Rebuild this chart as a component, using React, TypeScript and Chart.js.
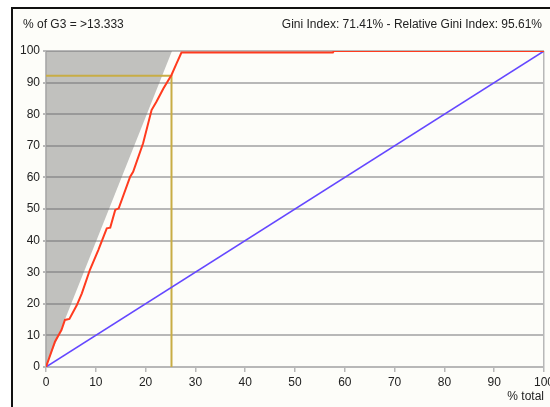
import { useEffect, useRef } from 'react';
import { Chart, registerables } from 'chart.js';

Chart.register(...registerables);

const LEFT_TITLE = '% of G3 = >13.333';
const RIGHT_TITLE = 'Gini Index: 71.41% - Relative Gini Index: 95.61%';
const X_TITLE = '% total';

// Model (lift / gain) curve
const modelX = [0, 1.8, 3.1, 3.8, 4.7, 6.2, 7.2, 8.8, 10.5, 12.2, 12.9, 13.9, 14.6, 16.9, 17.5, 19.5, 21.2, 22.2, 23.6, 25.2, 26.2, 27.2, 57.6, 57.8, 100];
const modelY = [0, 8, 11.7, 14.9, 15.2, 19.6, 23.3, 30.7, 37, 43.9, 44.1, 49.7, 50.2, 60.2, 61.8, 70.8, 81.3, 84, 88.2, 92.4, 96, 99.5, 99.5, 100, 100];

// Random (diagonal) line
const randomX = [0, 100];
const randomY = [0, 100];

// Perfect model area
const perfectX = [0, 25.3, 0, 0];
const perfectY = [0, 100, 100, 0];

// Cutoff marker
const cutoffX = [0, 25.2, 25.2];
const cutoffY = [92.2, 92.2, 0];

const toPts = (xs: number[], ys: number[]) => xs.map((x, i) => ({ x, y: ys[i] }));

const FONT = "'Liberation Sans', Arial, sans-serif";

export default function App() {
  const ref = useRef<HTMLCanvasElement | null>(null);

  useEffect(() => {
    if (!ref.current) return;
    const framePlugin = {
      id: 'frame',
      beforeDraw(chart: any) {
        const ctx = chart.ctx;
        ctx.save();
        ctx.fillStyle = '#ffffff';
        ctx.fillRect(0, 0, chart.width, chart.height);
        ctx.fillStyle = '#fdfdf9';
        ctx.fillRect(12, 8, chart.width - 12, chart.height - 8);
        ctx.fillStyle = '#111111';
        ctx.fillRect(11, 7, 2, chart.height - 7);
        ctx.fillRect(11, 7, chart.width - 11, 2);
        ctx.restore();
      },
      afterDraw(chart: any) {
        const ctx = chart.ctx;
        ctx.save();
        ctx.font = `12px ${FONT}`;
        ctx.fillStyle = '#222222';
        ctx.textBaseline = 'alphabetic';
        ctx.textAlign = 'left';
        ctx.fillText(LEFT_TITLE, 23, 28);
        ctx.textAlign = 'right';
        ctx.fillText(RIGHT_TITLE, 542, 28);
        ctx.restore();
      },
    };

    const chart = new Chart(ref.current, {
      type: 'scatter',
      data: {
        datasets: [
          {
            label: 'model',
            data: toPts(modelX, modelY),
            showLine: true,
            borderColor: '#ff3b1f',
            borderWidth: 2,
            pointRadius: 0,
            fill: false,
            order: 0,
          },
          {
            label: 'random',
            data: toPts(randomX, randomY),
            showLine: true,
            borderColor: '#6447ff',
            borderWidth: 1.5,
            pointRadius: 0,
            fill: false,
            order: 1,
          },
          {
            label: 'cutoff',
            data: toPts(cutoffX, cutoffY),
            showLine: true,
            borderColor: '#c8ad45',
            borderWidth: 2,
            pointRadius: 0,
            fill: false,
            order: 2,
          },
          {
            label: 'perfect',
            data: toPts(perfectX, perfectY),
            showLine: true,
            borderColor: 'rgba(0,0,0,0)',
            borderWidth: 0,
            backgroundColor: 'rgba(110,110,110,0.42)',
            pointRadius: 0,
            fill: 'shape',
            order: 3,
          } as any,
        ],
      },
      options: {
        animation: false,
        responsive: false,
        devicePixelRatio: 1,
        layout: { padding: { left: 0, right: 6, top: 51, bottom: 0 } },
        plugins: {
          legend: { display: false },
          tooltip: { enabled: false },
        },
        scales: {
          x: {
            type: 'linear',
            min: 0,
            max: 100,
            border: { display: false },
            grid: {
              drawOnChartArea: true,
              color: (c: any) => (c.index === 0 || c.index === 10 ? '#b8b8b8' : 'rgba(0,0,0,0)'),
              tickColor: '#b8b8b8',
              tickLength: 5,
              lineWidth: 1.5,
            },
            ticks: {
              stepSize: 10,
              padding: 3,
              color: '#222222',
              font: { family: FONT, size: 12 },
              maxRotation: 0,
            },
            title: {
              display: true,
              text: X_TITLE,
              align: 'end',
              color: '#222222',
              font: { family: FONT, size: 12 },
              padding: { top: 0, bottom: 3 },
            },
            afterFit: (s: any) => {
              s.height = 40;
              s.paddingLeft = 0;
              s.paddingRight = 0;
            },
          },
          y: {
            type: 'linear',
            min: 0,
            max: 100,
            border: { display: false },
            grid: {
              color: '#b8b8b8',
              tickColor: '#b8b8b8',
              tickLength: 3,
              lineWidth: 2,
            },
            ticks: {
              stepSize: 10,
              padding: 3,
              color: '#222222',
              font: { family: FONT, size: 12 },
            },
            afterFit: (s: any) => {
              s.width = 46;
              s.paddingTop = 0;
              s.paddingBottom = 0;
            },
          },
        },
      },
      plugins: [framePlugin],
    } as any);

    return () => chart.destroy();
  }, []);

  return (
    <div style={{ position: 'absolute', left: 0, top: 0, width: 550, height: 407 }}>
      <canvas ref={ref} width={550} height={407} style={{ display: 'block' }} />
    </div>
  );
}
